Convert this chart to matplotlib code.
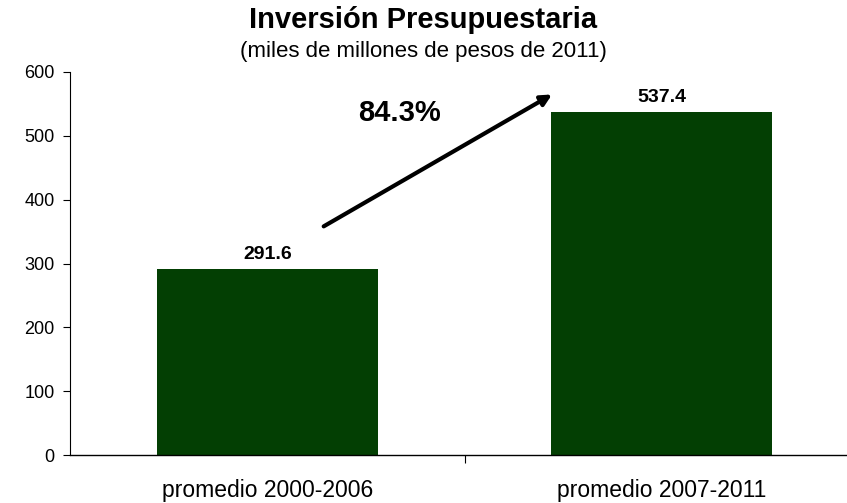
import matplotlib
matplotlib.use("Agg")
import matplotlib.pyplot as plt

plt.rcParams['font.family'] = ['Liberation Sans', 'DejaVu Sans']

categorias = ['promedio 2000-2006', 'promedio 2007-2011']
inversion = [291.6, 537.4]
crecimiento = '84.3%'
yticks = [0, 100, 200, 300, 400, 500, 600]

fig = plt.figure(figsize=(8.47, 5.03), dpi=100)
ax = fig.add_axes([70/847, 48/503, 789/847, 383/503])

x = [0, 1]
ax.bar(x, inversion, width=0.56, color='#033f03')
for xi, v in zip(x, inversion):
    ax.text(xi, v + 9, f'{v:.1f}', ha='center', va='bottom',
            fontsize=14, fontweight='bold')

ax.set_xlim(-0.5, 1.5)
ax.set_ylim(0, 600)
ax.set_yticks(yticks)
ax.tick_params(axis='y', labelsize=13, length=5, width=0.8, pad=6)
ax.set_xticks([0.5])
ax.set_xticklabels([''])
ax.tick_params(axis='x', length=6, width=0.8)
for xi, c in zip(x, categorias):
    ax.text(xi, -37, c, ha='center', va='top', fontsize=16.5)

for s in ['top', 'right']:
    ax.spines[s].set_visible(False)
ax.spines['left'].set_linewidth(0.8)
ax.spines['bottom'].set_linewidth(1.0)

ax.annotate('', xy=(0.728, 567), xytext=(0.137, 356),
            arrowprops=dict(arrowstyle='-|>', color='black', lw=3,
                            mutation_scale=16), annotation_clip=False)
ax.text(0.335, 535, crecimiento, ha='center', va='center',
        fontsize=21, fontweight='bold')

fig.text(0.5, 1 - 20/503, 'Inversión Presupuestaria', ha='center',
         va='center', fontsize=21, fontweight='bold')
fig.text(0.5, 1 - 52/503, '(miles de millones de pesos de 2011)',
         ha='center', va='center', fontsize=16)

fig.savefig('out.png', dpi=100)
